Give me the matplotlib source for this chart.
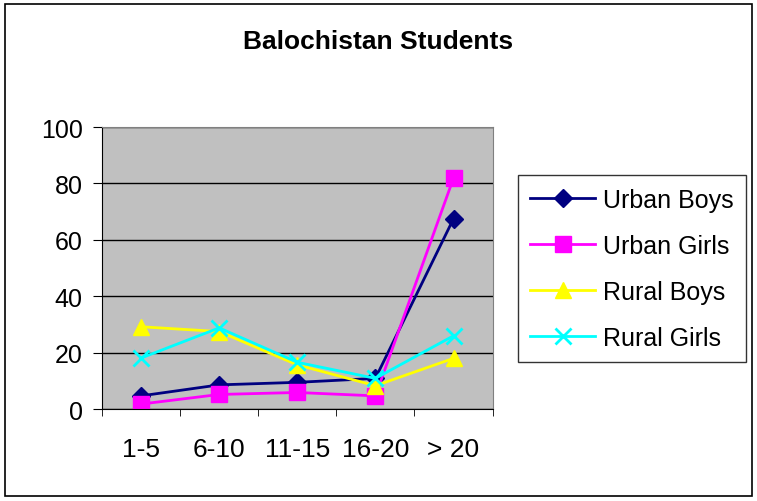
import numpy as np
import matplotlib.pyplot as plt
from matplotlib.patches import Rectangle

plt.rcParams['font.family'] = ['Liberation Sans', 'DejaVu Sans']

categories = ['1-5', '6-10', '11-15', '16-20', '> 20']
urban_boys = [4.7, 8.6, 9.5, 10.9, 67.5]
urban_girls = [1.8, 5.2, 5.9, 4.7, 81.9]
rural_boys = [29.2, 27.5, 15.7, 8.3, 18.0]
rural_girls = [18.1, 28.8, 16.6, 10.9, 26.0]

fig = plt.figure(figsize=(7.57, 5.02), dpi=100)
fig.patches.append(Rectangle((0.007, 0.01), 0.986, 0.98, transform=fig.transFigure,
                             fill=False, edgecolor='black', lw=1.2))
ax = fig.add_axes([0.1347, 0.183, 0.516, 0.562])
ax.set_facecolor('#C0C0C0')

x = np.arange(len(categories))
ax.plot(x, urban_boys, color='#000080', marker='D', ms=9, lw=2, label='Urban Boys')
ax.plot(x, urban_girls, color='#FF00FF', marker='s', ms=11, lw=2, label='Urban Girls')
ax.plot(x, rural_boys, color='#FFFF00', marker='^', ms=11, lw=2, label='Rural Boys')
ax.plot(x, rural_girls, color='#00FFFF', marker='x', ms=12, mew=2, lw=2, label='Rural Girls')

ax.set_xlim(-0.5, len(categories) - 0.5)
ax.set_ylim(0, 100)
ax.set_yticks(range(0, 101, 20))
ax.yaxis.grid(True, color='black', lw=1)
ax.set_axisbelow(True)
ax.set_xticks(x)
ax.set_xticklabels(categories)
ax.set_xticks(np.arange(-0.5, len(categories)), minor=True)
ax.tick_params(axis='x', which='major', length=0, pad=20, labelsize=19)
ax.tick_params(axis='x', which='minor', length=5, direction='out')
ax.tick_params(axis='y', length=6.5, direction='out', labelsize=18, pad=7.5)
for s in ['top', 'right']:
    ax.spines[s].set_color('#808080')
for s in ['left', 'bottom']:
    ax.spines[s].set_color('black')

fig.text(0.5, 0.916, 'Balochistan Students', ha='center', va='center',
         fontsize=19, fontweight='bold')

leg = fig.legend(loc='upper left', bbox_to_anchor=(0.684, 0.649), fontsize=18,
                 frameon=True, fancybox=False, edgecolor='black', handlelength=2.6,
                 labelspacing=0.88, borderpad=0.5, handletextpad=0.3,
                 borderaxespad=0)
leg.get_frame().set_linewidth(1)

fig.savefig('out.png', dpi=100)
